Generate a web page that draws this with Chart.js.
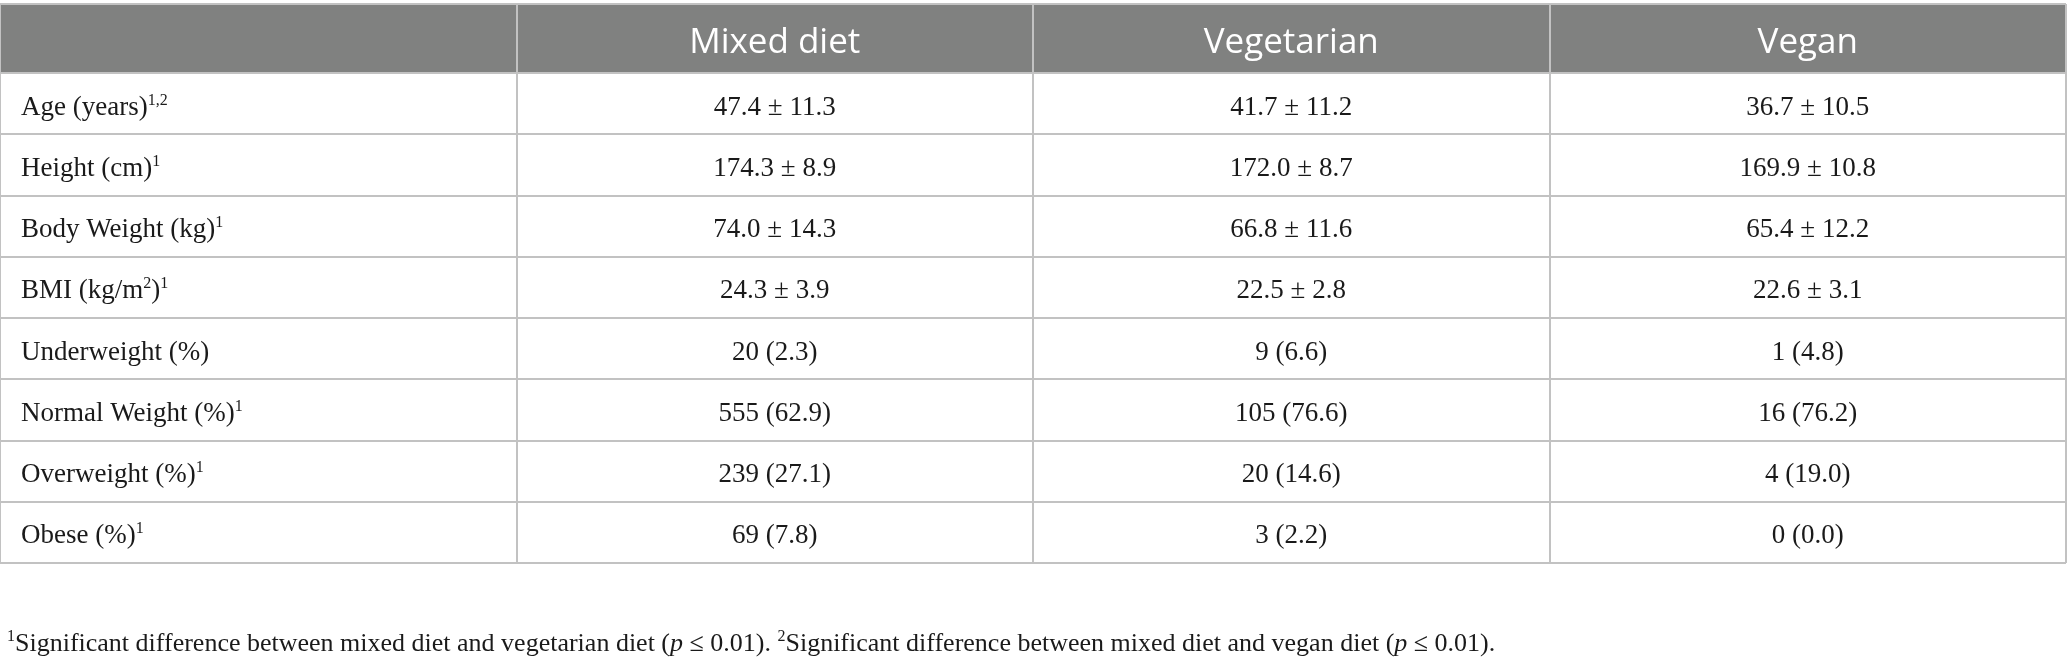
<!DOCTYPE html>
<html>
<head>
<meta charset="utf-8">
<script src="https://cdn.jsdelivr.net/npm/chart.js@4.4.1/dist/chart.umd.min.js"></script>
<style>
  html, body { margin: 0; padding: 0; background: #fff; }
  #wrap { width: 2067px; height: 668px; position: relative; }
</style>
</head>
<body>
<div id="wrap"><canvas id="table"></canvas></div>
<script>
// ^{..} = superscript, *{..} = italic
const groups = ["Mixed diet", "Vegetarian", "Vegan"];
const rowLabels = [
  "Age (years)^{1,2}",
  "Height (cm)^{1}",
  "Body Weight (kg)^{1}",
  "BMI (kg/m^{2})^{1}",
  "Underweight (%)",
  "Normal Weight (%)^{1}",
  "Overweight (%)^{1}",
  "Obese (%)^{1}"
];
const mixedDiet = ["47.4 ± 11.3", "174.3 ± 8.9", "74.0 ± 14.3", "24.3 ± 3.9", "20 (2.3)", "555 (62.9)", "239 (27.1)", "69 (7.8)"];
const vegetarian = ["41.7 ± 11.2", "172.0 ± 8.7", "66.8 ± 11.6", "22.5 ± 2.8", "9 (6.6)", "105 (76.6)", "20 (14.6)", "3 (2.2)"];
const vegan = ["36.7 ± 10.5", "169.9 ± 10.8", "65.4 ± 12.2", "22.6 ± 3.1", "1 (4.8)", "16 (76.2)", "4 (19.0)", "0 (0.0)"];
const footnote = "^{1}Significant difference between mixed diet and vegetarian diet (*{p} ≤ 0.01). ^{2}Significant difference between mixed diet and vegan diet (*{p} ≤ 0.01).";

const columns = [rowLabels, mixedDiet, vegetarian, vegan];
const headerRows = 1.13; // header row is a bit taller than body rows
const rowEdges = [0, ...rowLabels.map((_, i) => headerRows + i), headerRows + rowLabels.length];

const serif = "'Liberation Serif', 'Times New Roman', serif";
const sans = "'Open Sans', sans-serif";
const lineColor = "#c2c2c2";

function drawRich(ctx, text, x, y, size, align, family) {
  const parts = text.split(/(\^\{[^}]*\}|\*\{[^}]*\})/).filter(Boolean).map(p => {
    if (p.startsWith("^{")) return { t: p.slice(2, -1), sup: true };
    if (p.startsWith("*{")) return { t: p.slice(2, -1), it: true };
    return { t: p };
  });
  const fontFor = p => `${p.it ? "italic " : ""}${p.sup ? Math.round(size * 0.6) : size}px ${family}`;
  let w = 0;
  parts.forEach(p => { ctx.font = fontFor(p); p.w = ctx.measureText(p.t).width; w += p.w; });
  let cx = align === "center" ? x - w / 2 : x;
  ctx.textAlign = "left";
  parts.forEach(p => {
    ctx.font = fontFor(p);
    ctx.fillText(p.t, cx, p.sup ? y - size * 0.38 : y);
    cx += p.w;
  });
}

const tablePlugin = {
  id: "tablePlugin",
  beforeDraw(chart) {
    const { ctx, scales: { x, y } } = chart;
    ctx.save();
    ctx.fillStyle = "#808180";
    const top = y.getPixelForValue(0), bot = y.getPixelForValue(headerRows);
    ctx.fillRect(x.left, top, x.right - x.left, bot - top);
    ctx.restore();
  },
  afterDatasetsDraw(chart) {
    const { ctx, scales: { x, y } } = chart;
    ctx.save();
    ctx.textBaseline = "alphabetic";
    // header
    ctx.fillStyle = "#ffffff";
    groups.forEach((g, i) => {
      drawRich(ctx, g, x.getPixelForValue(i + 1.5), y.getPixelForValue(headerRows / 2) + 14, 35, "center", sans);
    });
    // cells
    ctx.fillStyle = "#1a1a1a";
    chart.data.datasets.forEach((ds, di) => {
      const meta = chart.getDatasetMeta(di);
      meta.data.forEach((pt, i) => {
        const text = columns[di][i];
        if (di === 0) drawRich(ctx, text, x.getPixelForValue(0) + 21, pt.y + 11, 27, "left", serif);
        else drawRich(ctx, text, pt.x, pt.y + 11, 27, "center", serif);
      });
    });
    // footnote
    drawRich(ctx, footnote, x.getPixelForValue(0) + 7, y.bottom + 88, 26, "left", serif);
    ctx.restore();
  }
};

const datasets = columns.map((col, c) => ({
  label: c === 0 ? "" : groups[c - 1],
  data: col.map((_, i) => ({ x: c + 0.5, y: headerRows + i + 0.5 })),
  pointRadius: 0,
  showLine: false
}));

new Chart(document.getElementById("table"), {
  type: "scatter",
  data: { datasets },
  options: {
    responsive: true,
    maintainAspectRatio: false,
    animation: false,
    events: [],
    layout: { padding: { top: 4, bottom: 105, left: 0, right: 1 } },
    plugins: { legend: { display: false }, tooltip: { enabled: false } },
    scales: {
      x: {
        type: "linear",
        min: 0,
        max: 4,
        afterBuildTicks: axis => { axis.ticks = [0, 1, 2, 3, 4].map(v => ({ value: v })); },
        ticks: { display: false },
        grid: { color: lineColor, lineWidth: 2, drawTicks: false },
        border: { display: false }
      },
      y: {
        type: "linear",
        reverse: true,
        min: 0,
        max: headerRows + rowLabels.length,
        afterBuildTicks: axis => { axis.ticks = rowEdges.map(v => ({ value: v })); },
        ticks: { display: false },
        grid: { color: lineColor, lineWidth: 2, drawTicks: false },
        border: { display: false }
      }
    }
  },
  plugins: [tablePlugin]
});
</script>
</body>
</html>
